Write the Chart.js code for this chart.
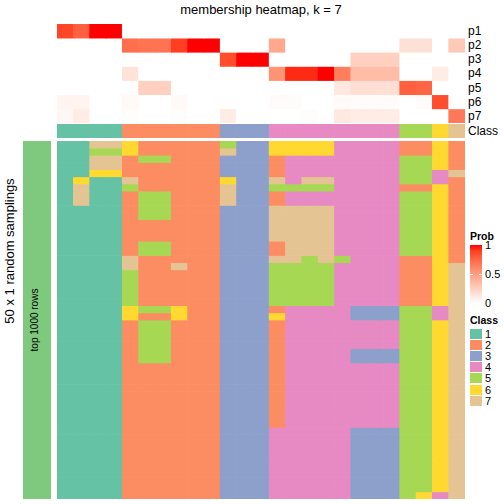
<!DOCTYPE html>
<html><head><meta charset="utf-8">
<script src="https://cdn.jsdelivr.net/npm/chart.js@4/dist/chart.umd.min.js"></script>
<style>
html,body{margin:0;padding:0;background:#fff;}
#wrap{position:relative;width:504px;height:504px;overflow:hidden;font-family:"Liberation Sans",Arial,sans-serif;color:#000;}
canvas{position:absolute;display:block;}
.t{position:absolute;white-space:nowrap;}
.sw{position:absolute;width:12px;height:10px;}
</style></head><body>
<div id="wrap">
<canvas id="cProb" width="408" height="99" style="left:57px;top:24px;width:408px;height:99px"></canvas>
<canvas id="cClass" width="408" height="14" style="left:57px;top:124px;width:408px;height:14px"></canvas>
<canvas id="cMain" width="408" height="358" style="left:57px;top:141px;width:408px;height:358px"></canvas>
<div id="annot"></div>
</div>
<script>
// ---------- data ----------
const samples = Array.from({length:25},(_,i)=>"s"+(i+1));
const probNames = ["p1","p2","p3","p4","p5","p6","p7"];
const p1 = [0.88,0.78,1,1,0,0,0,0,0,0,0,0,0,0,0,0,0,0,0,0,0,0,0,0,0];
const p2 = [0,0,0,0,0.72,0.70,0.70,0.90,1,1,0,0,0,0.45,0,0,0,0,0,0,0,0.16,0.16,0,0.28];
const p3 = [0,0,0,0,0,0,0,0,0,0,0.85,1,1,0,0,0,0,0,0.25,0.25,0.25,0,0,0,0];
const p4 = [0,0,0,0,0.15,0,0,0,0,0,0,0,0,0.55,0.95,0.95,1,0.65,0.35,0.35,0.35,0,0,0.10,0];
const p5 = [0,0,0,0,0,0.25,0.25,0,0,0,0,0,0,0,0,0,0,0.12,0.17,0.17,0.17,0.78,0.76,0,0];
const p6 = [0.06,0.06,0,0,0.03,0,0,0.03,0,0,0,0,0,0.02,0.02,0,0,0.02,0.02,0.02,0.02,0,0.02,0.85,0];
const p7 = [0.04,0.10,0,0,0.01,0,0,0.01,0,0,0.10,0,0,0,0,0.01,0,0.12,0.10,0.10,0.10,0,0,0,0.68];
const classRow = [1,1,1,1,2,2,2,2,2,2,3,3,3,4,4,4,4,4,4,4,4,5,5,6,7];
const samplings = [
"1177622222533666644442262",
"1155622222733666644442262",
"1177255222333244444445562",
"1177222222333244444445562",
"1166222222333244444445547",
"1611722222633747744445542",
"1711522222733555544442262",
"1711255222733244444445562",
"1711255222733244444445562",
"1111255222333777744445562",
"1111255222333777744445562",
"1111222222333777744445562",
"1111222222333777744445562",
"1111222222333777744445562",
"1111255222333277744445562",
"1111255222333277744445562",
"1111722222333775754442262",
"1111722722333555544442267",
"1111522222333555544442267",
"1111522222333555544442267",
"1111522222333555544442267",
"1111522222333555544442267",
"1111522222333555544442267",
"1111655622333244443335547",
"1111622622333644443335547",
"1111255222333244444445567",
"1111255222333244444445567",
"1111255222333244444445567",
"1111255222333244444445567",
"1111255222333244443335567",
"1111255222333244443335567",
"1111222222333244444445567",
"1111222222333244444445567",
"1111222222333244444445567",
"1111222222333244444445567",
"1111222222333244444445567",
"1111222222333244444445567",
"1111222222333244444445567",
"1111222222333244444445567",
"1111222222333244444445567",
"1111222222333444443335567",
"1111222222333444443335567",
"1111222222333444443335567",
"1111222222333444443335567",
"1111222222333444443335567",
"1111222222333444443335567",
"1111222222333444443335567",
"1111222222333444443335567",
"1111222222333444443335567",
"1111222222333444443335647"
];
const classLabels = ["1","2","3","4","5","6","7"];
const probTicks = ["1","0.5","0"];

// ---------- styles ----------
const classColors = {1:"#66C2A5",2:"#FC8D62",3:"#8DA0CB",4:"#E78AC3",5:"#A6D854",6:"#FFD92F",7:"#E5C494"};
function labToHex(L,a,b){
  const fy=(L+16)/116, fx=fy+a/500, fz=fy-b/200;
  const f=t=>{const t3=t*t*t;return t3>0.008856?t3:(t-16/116)/7.787;};
  const X=0.95047*f(fx), Y=f(fy), Z=1.08883*f(fz);
  let r=3.2406*X-1.5372*Y-0.4986*Z, g=-0.9689*X+1.8758*Y+0.0415*Z, bb=0.0557*X-0.2040*Y+1.0570*Z;
  const gm=v=>{v=Math.max(0,Math.min(1,v));v=v<=0.0031308?12.92*v:1.055*Math.pow(v,1/2.4)-0.055;return Math.round(v*255);};
  return "rgb("+gm(r)+","+gm(g)+","+gm(bb)+")";
}
function probColor(p){ return labToHex(100+(53.24-100)*p, 80.09*p, 67.20*p); }

function heat(id, nRows, colorAt){
  const datasets=[];
  for(let r=0;r<nRows;r++){
    datasets.push({
      data: samples.map(()=>[r,r+1]),
      backgroundColor: samples.map((_,c)=>colorAt(r,c)),
      borderWidth:0, barPercentage:1, categoryPercentage:1, grouped:false
    });
  }
  new Chart(document.getElementById(id),{
    type:'bar',
    data:{labels:samples,datasets},
    options:{responsive:false,animation:false,events:[],
      layout:{padding:0},
      plugins:{legend:{display:false},tooltip:{enabled:false},title:{display:false}},
      scales:{x:{display:false,offset:true,grid:{display:false}},
              y:{display:false,min:0,max:nRows,reverse:true,grid:{display:false}}}}
  });
}
const probRows=[p1,p2,p3,p4,p5,p6,p7];
heat('cProb',7,(r,c)=>probColor(probRows[r][c]));
heat('cClass',1,(r,c)=>classColors[classRow[c]]);
heat('cMain',samplings.length,(r,c)=>classColors[+samplings[r][c]]);

// ---------- annotations ----------
const A=document.getElementById('annot');
function txt(s,css){const d=document.createElement('div');d.className='t';d.textContent=s;d.style.cssText+=css;A.appendChild(d);return d;}
txt("membership heatmap, k = 7","left:261px;top:2px;font-size:13px;line-height:16px;transform:translateX(-50%);");
const rowH=99/7;
probNames.forEach((n,i)=>txt(n,`left:468px;top:${24+rowH*i}px;height:${rowH}px;line-height:${rowH}px;font-size:12px;`));
txt("Class","left:468px;top:124px;height:14px;line-height:14px;font-size:12px;");
// left green bar
const gb=document.createElement('div');gb.style.cssText="position:absolute;left:23px;top:141px;width:28px;height:358px;background:#7FC97F;";A.appendChild(gb);
txt("top 1000 rows","left:35px;top:320px;font-size:10px;line-height:12px;transform:translate(-50%,-50%) rotate(-90deg);");
txt("50 x 1 random samplings","left:8.5px;top:250.5px;font-size:13px;line-height:15px;transform:translate(-50%,-50%) rotate(-90deg);");
// Prob legend
txt("Prob","left:470px;top:230px;font-size:10.5px;font-weight:bold;line-height:12px;");
const cb=document.createElement('div');
const stops=[];for(let i=0;i<=10;i++){stops.push(probColor(1-i/10)+" "+(i*10)+"%");}
cb.style.cssText="position:absolute;left:470px;top:245px;width:12px;height:58px;background:linear-gradient(to bottom,"+stops.join(",")+");";
A.appendChild(cb);
[0,0.5].forEach(v=>{
  [0,9].forEach(x=>{const m=document.createElement('div');m.style.cssText=`position:absolute;left:${470+x}px;top:${245+58*(1-v)- (v===1?0:0.5)}px;width:3px;height:1px;background:#fff;`;A.appendChild(m);});
});
probTicks.forEach((s,i)=>txt(s,`left:485px;top:${245+29*i-6}px;font-size:11px;line-height:12px;`));
// Class legend
txt("Class","left:470px;top:314px;font-size:10.5px;font-weight:bold;line-height:12px;");
classLabels.forEach((s,i)=>{
  const sw=document.createElement('div');sw.className='sw';sw.style.left='470px';sw.style.top=(328.5+11.2*i)+'px';sw.style.background=classColors[i+1];A.appendChild(sw);
  txt(s,`left:485px;top:${328.5+11.2*i-1}px;font-size:11px;line-height:12px;`);
});
</script>
</body></html>
